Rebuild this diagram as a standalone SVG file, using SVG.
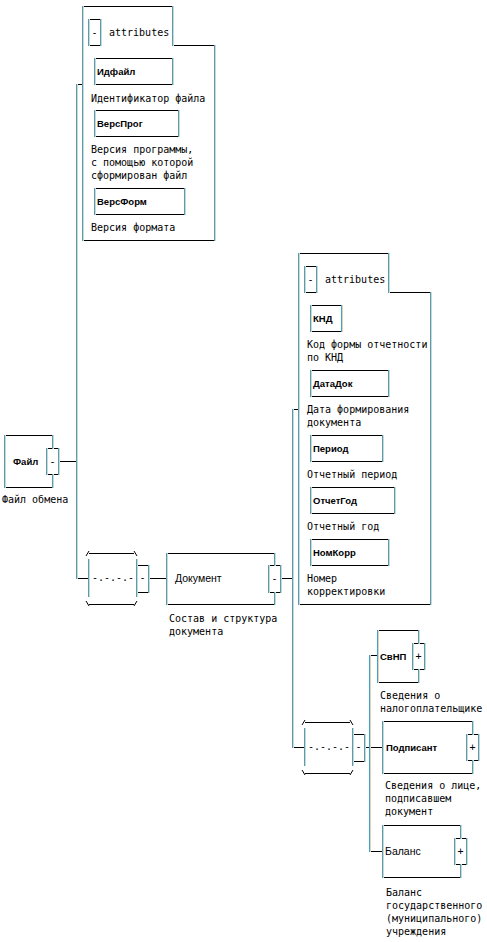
<svg xmlns="http://www.w3.org/2000/svg" xmlns:xlink="http://www.w3.org/1999/xlink" width="487" height="942" viewBox="0 0 487 942">
<style>
.ln{fill:none;stroke:#000;stroke-width:1}
.bx{fill:#fff;stroke:#000;stroke-width:1}
.vc{fill:none;stroke:#3ba3d6;stroke-width:1}
.vt{fill:none;stroke:#e6d2ae;stroke-width:1}
.d{font-family:"DejaVu Sans Mono","Liberation Mono",monospace;font-size:10px;fill:#000}
.s{font-family:"DejaVu Sans Mono","Liberation Mono",monospace;font-size:10px;fill:#000;text-anchor:middle}
.b{font-family:"Liberation Sans",Arial,sans-serif;font-weight:bold;font-size:9.5px;fill:#000}
.n{font-family:"Liberation Sans",Arial,sans-serif;font-size:10.5px;fill:#000}
</style>
<defs>
<path id="vAttr1" d="M82.5 6V241M172.5 6V46M214.5 45V241M88.5 19V46M100.5 19V46"/>
<path id="vAttr2" d="M298.5 253V605M388.5 253V293M430.5 292V605M304.5 266V293M316.5 266V293"/>
<g id="seqShape">
<path class="ln" d="M1 -24.5H46M1 26.5H46M-2 -22L1 -27M46 -27L49 -22M-2 23L1 28M46 28L49 23"/>
<rect class="bx" x="48.5" y="-12.5" width="12" height="27"/>
<text class="s" x="54.5" y="3">-</text>
<text class="d" x="4" y="3">-.-.-.-</text>
</g>
<path id="vSeq" d="M0.5 -19V19M48.5 -19V19M48.5 -13V15M60.5 -13V15"/>
</defs>

<g id="connectors">
<path class="ln" d="M76.5 84.5H82M58 461.5H76.5M76.5 578.5H88M148 578.5H166M280 578.5H292.5M292.5 409.5H298M292.5 747.5H304M364 747.5H382M369.5 655.5H377M369.5 851.5H382"/>
<path class="vc" d="M76.5 84V579M292.5 409V748M369.5 655V852"/>
<path class="vt" d="M77.5 84V579M293.5 409V748M370.5 655V852"/>
</g>

<g id="attributes-file">
<path class="bx" d="M82.5 6.5H172.5V45.5H214.5V240.5H82.5Z"/>
<rect class="bx" x="88.5" y="19.5" width="12" height="26"/>
<use xlink:href="#vAttr1" class="vc"/>
<use xlink:href="#vAttr1" class="vt" x="1"/>
<text class="s" x="94.5" y="36">-</text>
<text class="d" x="109" y="36">attributes</text>
</g>
<g id="attr-IdFile">
<rect class="bx" x="94.5" y="58.5" width="78" height="26"/>
<path class="vc" d="M94.5 58V85M172.5 58V85"/><path class="vt" d="M95.5 58V85M173.5 58V85"/>
<text class="b" x="97" y="75">Идфайл</text>
<text class="d" x="91" y="101.5">Идентификатор файла</text>
</g>
<g id="attr-VersProg">
<rect class="bx" x="94.5" y="110.5" width="84" height="26"/>
<path class="vc" d="M94.5 110V137M178.5 110V137"/><path class="vt" d="M95.5 110V137M179.5 110V137"/>
<text class="b" x="97" y="127">ВерсПрог</text>
<text class="d" x="91" y="153">Версия программы,</text>
<text class="d" x="91" y="166">с помощью которой</text>
<text class="d" x="91" y="179">сформирован файл</text>
</g>
<g id="attr-VersForm">
<rect class="bx" x="94.5" y="188.5" width="90" height="26"/>
<path class="vc" d="M94.5 188V215M184.5 188V215"/><path class="vt" d="M95.5 188V215M185.5 188V215"/>
<text class="b" x="97" y="205">ВерсФорм</text>
<text class="d" x="91" y="231">Версия формата</text>
</g>

<g id="node-File">
<rect class="bx" x="4.5" y="435.5" width="48" height="52"/>
<rect class="bx" x="46.5" y="448.5" width="12" height="26"/>
<path class="vc" d="M4.5 435V488M52.5 435V449M52.5 474V488M46.5 448V475M58.5 448V475"/>
<path class="vt" d="M5.5 435V488M53.5 435V449M53.5 474V488M47.5 448V475M59.5 448V475"/>
<text class="b" x="13" y="465">Файл</text>
<text class="s" x="52.5" y="464.5">-</text>
<text class="d" x="2" y="503">Файл обмена</text>
</g>

<g id="seq-1" transform="translate(88,578)">
<use xlink:href="#seqShape"/>
<use xlink:href="#vSeq" class="vc"/>
<use xlink:href="#vSeq" class="vt" x="1"/>
</g>

<g id="node-Document">
<rect class="bx" x="166.5" y="553.5" width="108" height="51"/>
<rect class="bx" x="268.5" y="565.5" width="12" height="27"/>
<path class="vc" d="M166.5 553V605M274.5 553V566M274.5 592V605M268.5 565V593M280.5 565V593"/>
<path class="vt" d="M167.5 553V605M275.5 553V566M275.5 592V605M269.5 565V593M281.5 565V593"/>
<text class="n" x="175" y="582">Документ</text>
<text class="s" x="274.5" y="581.5">-</text>
<text class="d" x="169" y="622">Состав и структура</text>
<text class="d" x="169" y="635">документа</text>
</g>

<g id="attributes-document">
<path class="bx" d="M298.5 253.5H388.5V292.5H430.5V604.5H298.5Z"/>
<rect class="bx" x="304.5" y="266.5" width="12" height="26"/>
<use xlink:href="#vAttr2" class="vc"/>
<use xlink:href="#vAttr2" class="vt" x="1"/>
<text class="s" x="310.5" y="283">-</text>
<text class="d" x="325" y="282.5">attributes</text>
</g>
<g id="attr-KND">
<rect class="bx" x="310.5" y="305.5" width="31" height="26"/>
<path class="vc" d="M310.5 305V332M341.5 305V332"/><path class="vt" d="M311.5 305V332M342.5 305V332"/>
<text class="b" x="313" y="322">КНД</text>
<text class="d" x="307" y="348">Код формы отчетности</text>
<text class="d" x="307" y="361">по КНД</text>
</g>
<g id="attr-DataDok">
<rect class="bx" x="310.5" y="370.5" width="78" height="26"/>
<path class="vc" d="M310.5 370V397M388.5 370V397"/><path class="vt" d="M311.5 370V397M389.5 370V397"/>
<text class="b" x="313" y="387">ДатаДок</text>
<text class="d" x="307" y="413">Дата формирования</text>
<text class="d" x="307" y="426">документа</text>
</g>
<g id="attr-Period">
<rect class="bx" x="310.5" y="435.5" width="72" height="26"/>
<path class="vc" d="M310.5 435V462M382.5 435V462"/><path class="vt" d="M311.5 435V462M383.5 435V462"/>
<text class="b" x="313" y="452">Период</text>
<text class="d" x="307" y="478">Отчетный период</text>
</g>
<g id="attr-OtchetGod">
<rect class="bx" x="310.5" y="487.5" width="84" height="26"/>
<path class="vc" d="M310.5 487V514M394.5 487V514"/><path class="vt" d="M311.5 487V514M395.5 487V514"/>
<text class="b" x="313" y="504">ОтчетГод</text>
<text class="d" x="307" y="530">Отчетный год</text>
</g>
<g id="attr-NomKorr">
<rect class="bx" x="310.5" y="539.5" width="78" height="26"/>
<path class="vc" d="M310.5 539V566M388.5 539V566"/><path class="vt" d="M311.5 539V566M389.5 539V566"/>
<text class="b" x="313" y="556">НомКорр</text>
<text class="d" x="307" y="582">Номер</text>
<text class="d" x="307" y="595">корректировки</text>
</g>

<g id="seq-2" transform="translate(304,747)">
<use xlink:href="#seqShape"/>
<use xlink:href="#vSeq" class="vc"/>
<use xlink:href="#vSeq" class="vt" x="1"/>
</g>

<g id="node-SvNP">
<rect class="bx" x="377.5" y="630.5" width="41" height="52"/>
<rect class="bx" x="412.5" y="643.5" width="12" height="26"/>
<path class="vc" d="M377.5 630V683M418.5 630V644M418.5 669V683M412.5 643V670M424.5 643V670"/>
<path class="vt" d="M378.5 630V683M419.5 630V644M419.5 669V683M413.5 643V670M425.5 643V670"/>
<text class="b" x="380" y="660">СвНП</text>
<text class="s" x="418.5" y="660">+</text>
<text class="d" x="380" y="699">Сведения о</text>
<text class="d" x="380" y="712">налогоплательщике</text>
</g>

<g id="node-Podpisant">
<rect class="bx" x="382.5" y="721.5" width="90" height="52"/>
<rect class="bx" x="466.5" y="734.5" width="12" height="26"/>
<path class="vc" d="M382.5 721V774M472.5 721V735M472.5 760V774M466.5 734V761M478.5 734V761"/>
<path class="vt" d="M383.5 721V774M473.5 721V735M473.5 760V774M467.5 734V761M479.5 734V761"/>
<text class="b" x="386" y="751">Подписант</text>
<text class="s" x="472.5" y="751">+</text>
<text class="d" x="385" y="789">Сведения о лице,</text>
<text class="d" x="385" y="802">подписавшем</text>
<text class="d" x="385" y="815">документ</text>
</g>

<g id="node-Balans">
<rect class="bx" x="382.5" y="825.5" width="78" height="52"/>
<rect class="bx" x="454.5" y="838.5" width="12" height="26"/>
<path class="vc" d="M382.5 825V878M460.5 825V839M460.5 864V878M454.5 838V865M466.5 838V865"/>
<path class="vt" d="M383.5 825V878M461.5 825V839M461.5 864V878M455.5 838V865M467.5 838V865"/>
<text class="n" x="385" y="854.5">Баланс</text>
<text class="s" x="460.5" y="855">+</text>
<text class="d" x="386" y="896">Баланс</text>
<text class="d" x="386" y="909">государственного</text>
<text class="d" x="386" y="922">(муниципального)</text>
<text class="d" x="386" y="935">учреждения</text>
</g>
</svg>
